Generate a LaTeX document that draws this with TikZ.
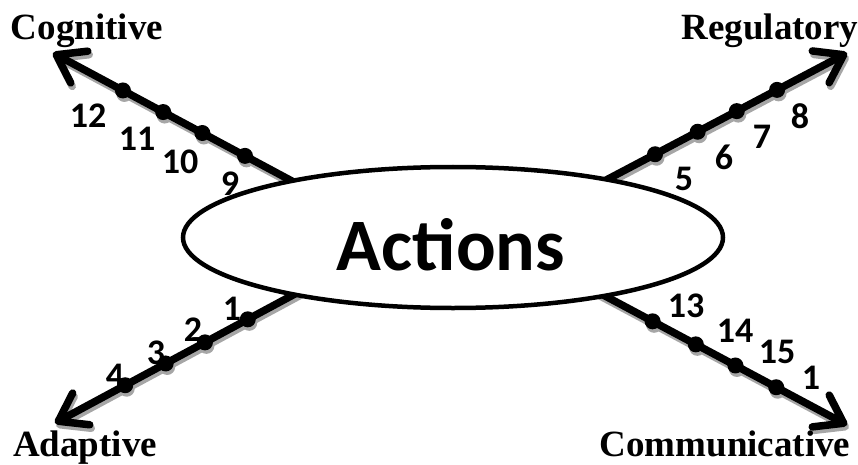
\documentclass[tikz,border=0pt]{standalone}
\usepackage{fontspec}
\setmainfont{Liberation Serif}
\newfontfamily\numfont{Carlito}
\usetikzlibrary{arrows.meta,shapes.geometric,calc}

\begin{document}
\begin{tikzpicture}[x=1pt,y=-1pt,
  axisline/.style={line width=7.5pt, -{Straight Barb[length=26pt,width=36pt,round]}},
  dot/.style={circle, fill=black, minimum size=16pt, inner sep=0pt},
  shadowdot/.style={circle, fill=black!35, minimum size=16pt, inner sep=0pt},
  num/.style={font=\numfont\bfseries\fontsize{36}{36}\selectfont, inner sep=0pt},
  pole/.style={font=\bfseries\fontsize{37}{37}\selectfont, anchor=base, inner sep=0pt},
  core/.style={ellipse, draw, line width=4.5pt, fill=white, minimum width=540pt, minimum height=141pt, inner sep=0pt},
]
\useasboundingbox (0,0) rectangle (858,465);

% end points of the four axes: on the ellipse and at the arrow tips
\coordinate (cgB) at (290,180); \coordinate (cgT) at (53,53);
\coordinate (rgB) at (610,178); \coordinate (rgT) at (847,53);
\coordinate (adB) at (293,295); \coordinate (adT) at (55,423);
\coordinate (cmB) at (607,297); \coordinate (cmT) at (847,425);

% soft drop shadow under the axes
\begin{scope}[transform canvas={shift={(1.5,3.5)}}]
  \foreach \b/\t in {cgB/cgT, rgB/rgT, adB/adT, cmB/cmT}{
    \draw[axisline, black!35] ($(\b)!-12pt!(\t)$) -- (\t);
    \foreach \p in {0.19,0.37,0.535,0.705}
      \node[shadowdot] at ($(\b)!\p!(\t)$) {};
  }
\end{scope}

% the axes with their tick dots
\foreach \b/\t in {cgB/cgT, rgB/rgT, adB/adT, cmB/cmT}{
  \draw[axisline] ($(\b)!-12pt!(\t)$) -- (\t);
  \foreach \p [count=\i] in {0.19,0.37,0.535,0.705}
    \node[dot] (\b-\i) at ($(\b)!\p!(\t)$) {};
}

% central ellipse
\node[core] (act) at (453,237.5) {};
\node[font=\numfont\bfseries\fontsize{74}{74}\selectfont, anchor=base, inner sep=0pt] (actlbl) at (451,270) {Actions};

% axis names
\node[pole] (cog) at (87,40) {Cognitive};
\node[pole] (reg) at (770,40) {Regulatory};
\node[pole] (ada) at (85,456) {Adaptive};
\node[pole] (com) at (725,456) {Communicative};

% numbers along the axes
\node[num] (n12) at (88,116) {12};
\node[num] (n11) at (137,139) {11};
\node[num] (n10) at (180,162) {10};
\node[num] (n9)  at (230,184) {9};

\node[num] (n5) at (684,179) {5};
\node[num] (n6) at (724,157) {6};
\node[num] (n7) at (762,137) {7};
\node[num] (n8) at (800,116) {8};

\node[num] (n1) at (232,309) {1};
\node[num] (n2) at (193,330) {2};
\node[num] (n3) at (156,353) {3};
\node[num] (n4) at (115,376) {4};

\node[num] (n13) at (686,306) {13};
\node[num] (n14) at (735,331) {14};
\node[num] (n15) at (777,352) {15};
\node[num] (n16) at (811,378) {1};
\end{tikzpicture}
\end{document}
